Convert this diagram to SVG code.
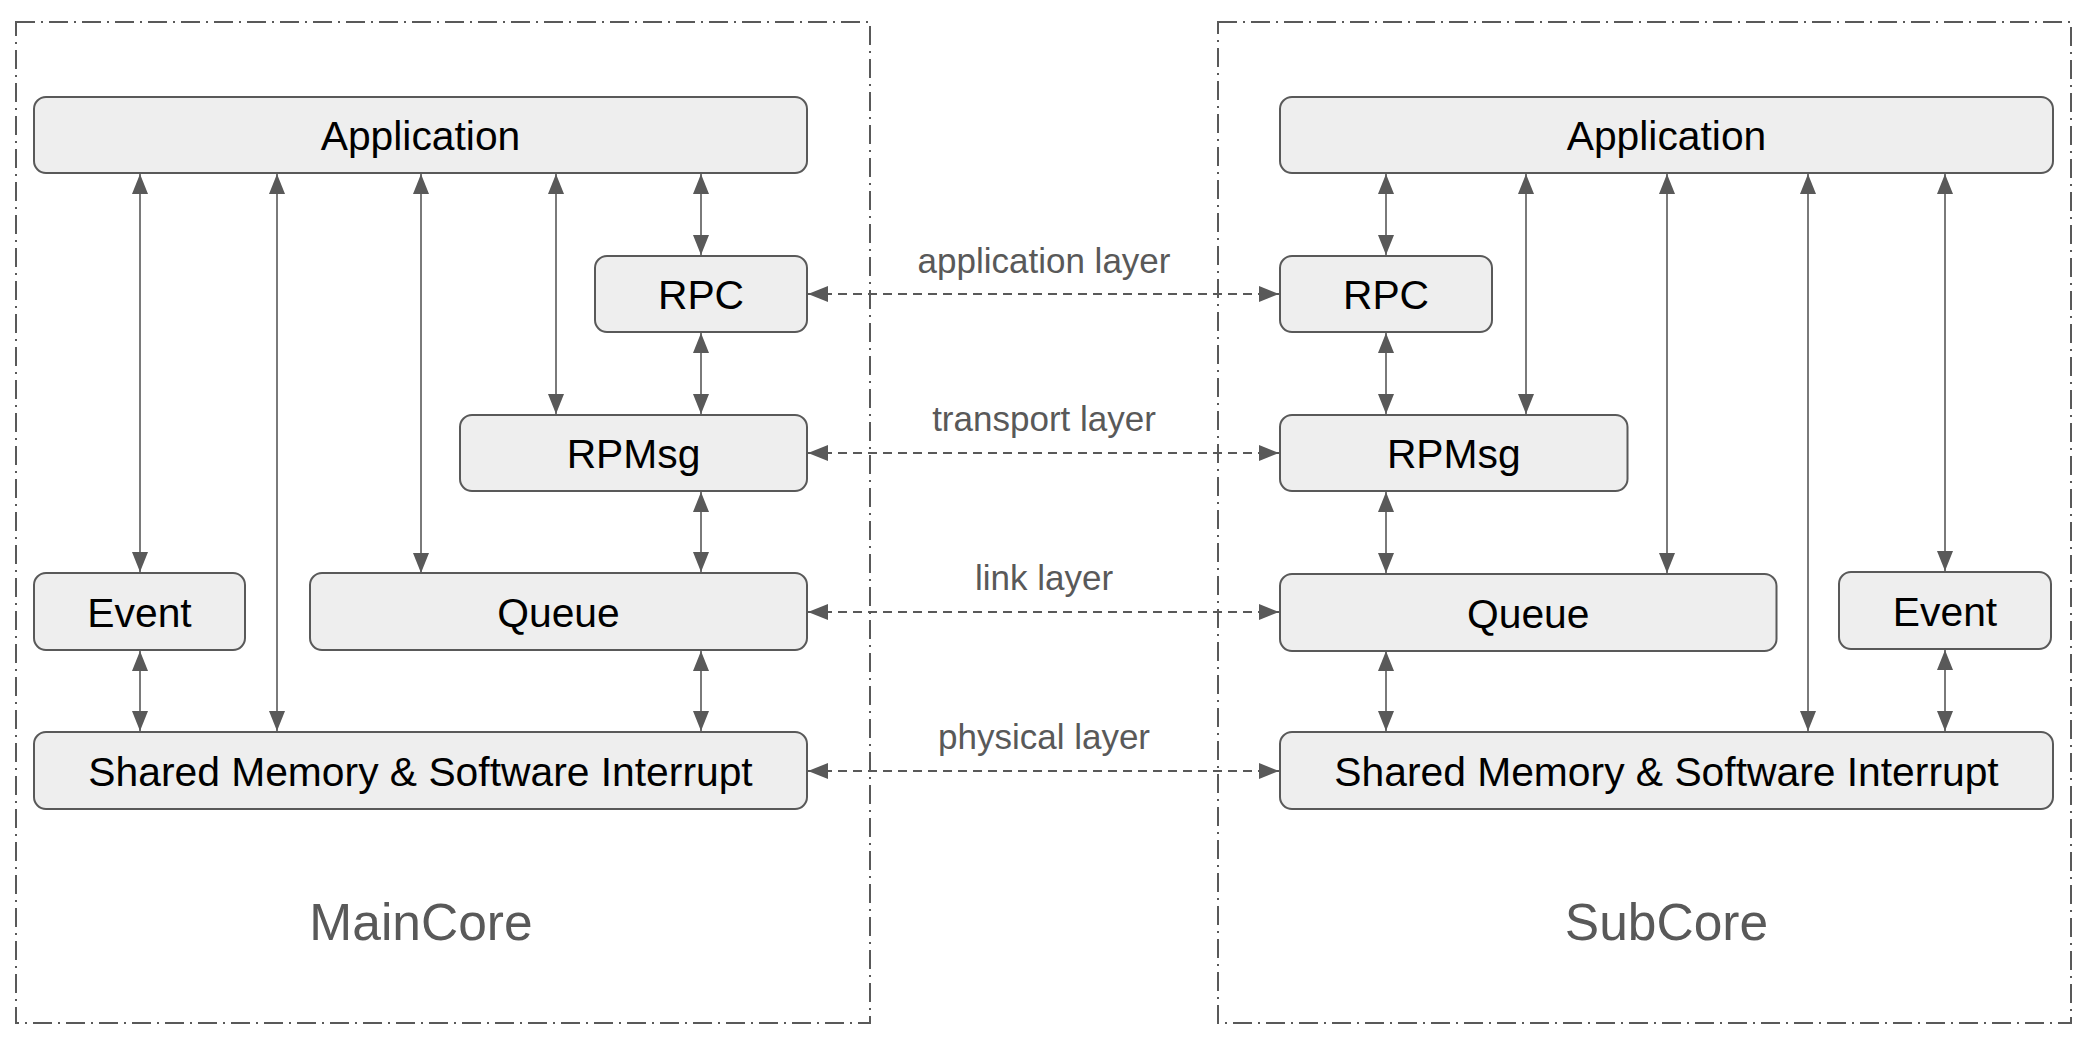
<svg xmlns="http://www.w3.org/2000/svg" width="2088" height="1042" viewBox="0 0 2088 1042">
<style>
.frame{fill:none;stroke:#595959;stroke-width:2;stroke-dasharray:19 6 2 6}
.node{fill:#eeeeee;stroke:#595959;stroke-width:2}
.nt{font-family:"Liberation Sans",Arial,sans-serif;font-size:40.8px;fill:#000;text-anchor:middle}
.lbl{font-family:"Liberation Sans",Arial,sans-serif;font-size:35px;fill:#595959;text-anchor:middle}
.core{font-family:"Liberation Sans",Arial,sans-serif;font-size:51.5px;fill:#595959;text-anchor:middle}
.sol{stroke:#595959;stroke-width:1.6;fill:none;marker-start:url(#ah);marker-end:url(#ah)}
.dsh{stroke:#595959;stroke-width:2;fill:none;stroke-dasharray:9 6;marker-start:url(#ah);marker-end:url(#ah)}
</style>
<defs>
<marker id="ah" markerUnits="userSpaceOnUse" markerWidth="20" markerHeight="16" refX="20" refY="8" orient="auto-start-reverse" viewBox="0 0 20 16">
<path d="M0,0 L20,8 L0,16 z" fill="#595959"/>
</marker>
</defs>
<rect width="2088" height="1042" fill="#ffffff"/>
<g id="maincore-frame">
<rect class="frame" x="16" y="22" width="854" height="1001"/>
<text class="core" x="421" y="940">MainCore</text>
</g>
<g id="subcore-frame">
<rect class="frame" x="1218" y="22" width="853" height="1001"/>
<text class="core" x="1666.5" y="940">SubCore</text>
</g>
<g id="connectors">
<line class="sol" x1="140" y1="174" x2="140" y2="572"/>
<line class="sol" x1="277" y1="174" x2="277" y2="731"/>
<line class="sol" x1="421" y1="174" x2="421" y2="573"/>
<line class="sol" x1="556" y1="174" x2="556" y2="414"/>
<line class="sol" x1="701" y1="174" x2="701" y2="255"/>
<line class="sol" x1="701" y1="333" x2="701" y2="414"/>
<line class="sol" x1="701" y1="492" x2="701" y2="572"/>
<line class="sol" x1="701" y1="651" x2="701" y2="731"/>
<line class="sol" x1="140" y1="651" x2="140" y2="731"/>
<line class="sol" x1="1386" y1="174" x2="1386" y2="255"/>
<line class="sol" x1="1386" y1="333" x2="1386" y2="414"/>
<line class="sol" x1="1386" y1="492" x2="1386" y2="573"/>
<line class="sol" x1="1386" y1="651" x2="1386" y2="731"/>
<line class="sol" x1="1526" y1="174" x2="1526" y2="414"/>
<line class="sol" x1="1667" y1="174" x2="1667" y2="573"/>
<line class="sol" x1="1808" y1="174" x2="1808" y2="731"/>
<line class="sol" x1="1945" y1="174" x2="1945" y2="571"/>
<line class="sol" x1="1945" y1="650" x2="1945" y2="731"/>
<line class="dsh" x1="808" y1="294" x2="1279" y2="294"/>
<line class="dsh" x1="808" y1="453" x2="1279" y2="453"/>
<line class="dsh" x1="808" y1="612" x2="1279" y2="612"/>
<line class="dsh" x1="808" y1="771" x2="1279" y2="771"/>
<text class="lbl" x="1044" y="273">application layer</text>
<text class="lbl" x="1044" y="431">transport layer</text>
<text class="lbl" x="1044" y="590">link layer</text>
<text class="lbl" x="1044" y="749">physical layer</text>
</g>
<g id="main-application"><rect class="node" x="34" y="97" width="773" height="76" rx="12"/><text class="nt" x="420.5" y="150">Application</text></g>
<g id="main-rpc"><rect class="node" x="595" y="256" width="212" height="76" rx="12"/><text class="nt" x="701" y="309">RPC</text></g>
<g id="main-rpmsg"><rect class="node" x="460" y="415" width="347" height="76" rx="12"/><text class="nt" x="633.5" y="468">RPMsg</text></g>
<g id="main-event"><rect class="node" x="34" y="573" width="211" height="77" rx="12"/><text class="nt" x="139.5" y="626.5">Event</text></g>
<g id="main-queue"><rect class="node" x="310" y="573" width="497" height="77" rx="12"/><text class="nt" x="558.5" y="626.5">Queue</text></g>
<g id="main-shm"><rect class="node" x="34" y="732" width="773" height="77" rx="12"/><text class="nt" x="420.5" y="785.5">Shared Memory &amp; Software Interrupt</text></g>
<g id="sub-application"><rect class="node" x="1280" y="97" width="773" height="76" rx="12"/><text class="nt" x="1666.5" y="150">Application</text></g>
<g id="sub-rpc"><rect class="node" x="1280" y="256" width="212" height="76" rx="12"/><text class="nt" x="1386" y="309">RPC</text></g>
<g id="sub-rpmsg"><rect class="node" x="1280" y="415" width="347.5" height="76" rx="12"/><text class="nt" x="1453.75" y="468">RPMsg</text></g>
<g id="sub-queue"><rect class="node" x="1280" y="574" width="496.5" height="77" rx="12"/><text class="nt" x="1528.25" y="627.5">Queue</text></g>
<g id="sub-event"><rect class="node" x="1839" y="572" width="212" height="77" rx="12"/><text class="nt" x="1945" y="625.5">Event</text></g>
<g id="sub-shm"><rect class="node" x="1280" y="732" width="773" height="77" rx="12"/><text class="nt" x="1666.5" y="785.5">Shared Memory &amp; Software Interrupt</text></g>
</svg>
